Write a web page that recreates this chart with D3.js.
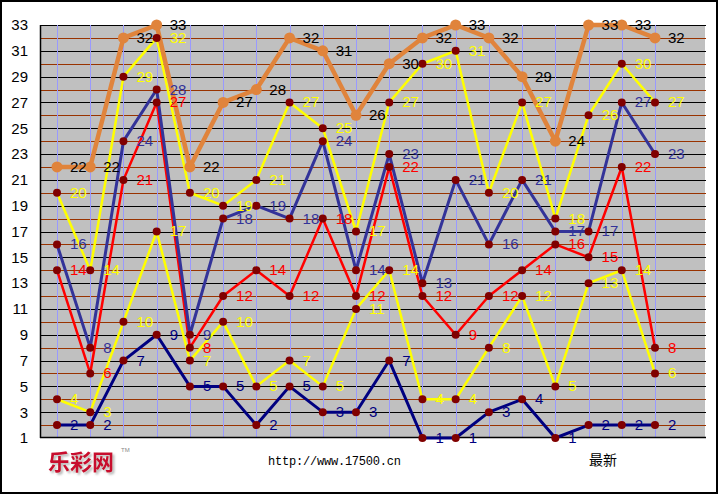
<!DOCTYPE html>
<html><head><meta charset="utf-8">
<script src="https://cdn.jsdelivr.net/npm/d3@7"></script>
<style>
html,body{margin:0;padding:0;background:#fff;}
svg{display:block;}
</style></head>
<body>
<svg id="c" width="719" height="495"></svg>
<script>
// ---- data ----
const draws = d3.range(19); // 19 draws, oldest to newest
const ball6 = [22,22,32,33,22,27,28,32,31,26,30,32,33,32,29,24,33,33,32]; // orange
const ball5 = [20,14,29,32,20,19,21,27,25,17,27,30,31,20,27,18,26,30,27]; // yellow (upper)
const ball4 = [16,8,24,28,9,18,19,18,24,14,23,13,21,16,21,17,17,27,23];   // blue
const ball3 = [14,6,21,27,8,12,14,12,18,12,22,12,9,12,14,16,15,22,8];     // red
const ball2 = [4,3,10,17,7,10,5,7,5,11,14,4,4,8,12,5,13,14,6];            // yellow (lower)
const ball1 = [2,2,7,9,5,5,2,5,3,3,7,1,1,3,4,1,2,2,2];                    // navy
const yTicks = [1,3,5,7,9,11,13,15,17,19,21,23,25,27,29,31,33];

const svg = d3.select("#c");
const L = 40, R = 705, T = 25, B = 437;
const x = d3.scalePoint().domain(draws).range([57, 655]);
const y = d3.scaleLinear().domain([1, 33]).range([438, 25]);

const defs = svg.append("defs");
const f = defs.append("filter").attr("id","sh").attr("x","-10%").attr("y","-10%").attr("width","130%").attr("height","140%");
f.append("feDropShadow").attr("dx",2).attr("dy",2).attr("stdDeviation",1).attr("flood-color","#888").attr("flood-opacity",0.6);

// outer border
svg.append("rect").attr("x",1).attr("y",1).attr("width",716).attr("height",492)
  .attr("fill","#fff").attr("stroke","#000").attr("stroke-width",2);

// plot bg
svg.append("rect").attr("x",L).attr("y",T).attr("width",R-L).attr("height",B-T).attr("fill","#C0C0C0");

// horizontal grid
const gridVals = d3.range(2, 34);
svg.append("g").selectAll("line").data(gridVals).join("line")
  .attr("x1",L).attr("x2",R+1)
  .attr("y1",d=>Math.round(y(d))+0.5).attr("y2",d=>Math.round(y(d))+0.5)
  .attr("stroke",d=>d%2===1?"#000":"#993300").attr("stroke-width",1);

// vertical lines
svg.append("g").selectAll("line").data(draws).join("line")
  .attr("x1",d=>Math.round(x(d))+0.5).attr("x2",d=>Math.round(x(d))+0.5)
  .attr("y1",T).attr("y2",B)
  .attr("stroke","#9999FF").attr("stroke-width",1);

// axes lines
svg.append("line").attr("x1",L+0.5).attr("x2",L+0.5).attr("y1",T).attr("y2",B+1).attr("stroke","#000").attr("stroke-width",1.5);
svg.append("line").attr("x1",L).attr("x2",R+1).attr("y1",B+0.5).attr("y2",B+0.5).attr("stroke","#000").attr("stroke-width",1.5);

// y axis labels
const yAxis = d3.axisLeft(y).tickValues(yTicks).tickSize(0).tickPadding(12);
const ga = svg.append("g").attr("transform",`translate(${L},0)`).call(yAxis);
ga.select(".domain").remove();
ga.selectAll("text").attr("font-family","'Liberation Sans',Arial,sans-serif")
  .attr("font-size",15).attr("fill","#000");

// series
const series = [
  {vals: ball1, color:"#000080", label:"#000080", w:3},
  {vals: ball2, color:"#FFFF00", label:"#FFFF00", w:2.5},
  {vals: ball3, color:"#FF0000", label:"#FF0000", w:2.5},
  {vals: ball4, color:"#333399", label:"#333399", w:3},
  {vals: ball5, color:"#FFFF00", label:"#FFFF00", w:2.5},
  {vals: ball6, color:"#E0843C", label:"#000000", w:4.5, orange:true}
];
const line = d3.line().x((d,i)=>x(i)).y(d=>y(d));

series.forEach(s=>{
  svg.append("path").datum(s.vals).attr("d",line).attr("fill","none")
    .attr("stroke",s.color).attr("stroke-width",s.w).attr("stroke-linejoin","round");
});
series.forEach(s=>{
  svg.append("g").selectAll("circle").data(s.vals).join("circle")
    .attr("cx",(d,i)=>x(i)).attr("cy",d=>y(d))
    .attr("r", s.orange?5.5:4)
    .attr("fill", s.orange?"#E0843C":"#800000");
});
series.forEach(s=>{
  svg.append("g").selectAll("text").data(s.vals).join("text")
    .attr("x",(d,i)=>x(i)+13).attr("y",d=>y(d)+1)
    .attr("dominant-baseline","middle")
    .attr("font-family","'Liberation Sans',Arial,sans-serif").attr("font-size",15)
    .attr("fill",s.label).text(d=>d);
});

// footer texts
svg.append("text").attr("x",48).attr("y",470).attr("font-family","'Noto Sans CJK SC',sans-serif")
  .attr("font-size",22).attr("font-weight","bold").attr("fill","#C8102E")
  .attr("filter","url(#sh)").text("乐彩网");
svg.append("text").attr("x",121).attr("y",452).attr("font-family","'Liberation Sans',Arial,sans-serif")
  .attr("font-size",6).attr("fill","#888").text("TM");

svg.append("text").attr("x",268).attr("y",465).attr("font-family","'Liberation Mono','DejaVu Sans Mono',monospace")
  .attr("font-size",12).attr("fill","#000").attr("textLength",133).text("http://www.17500.cn");
svg.append("text").attr("x",589).attr("y",465).attr("font-family","'Noto Sans CJK SC',sans-serif")
  .attr("font-size",14).attr("fill","#000").text("最新");
</script>
</body></html>
